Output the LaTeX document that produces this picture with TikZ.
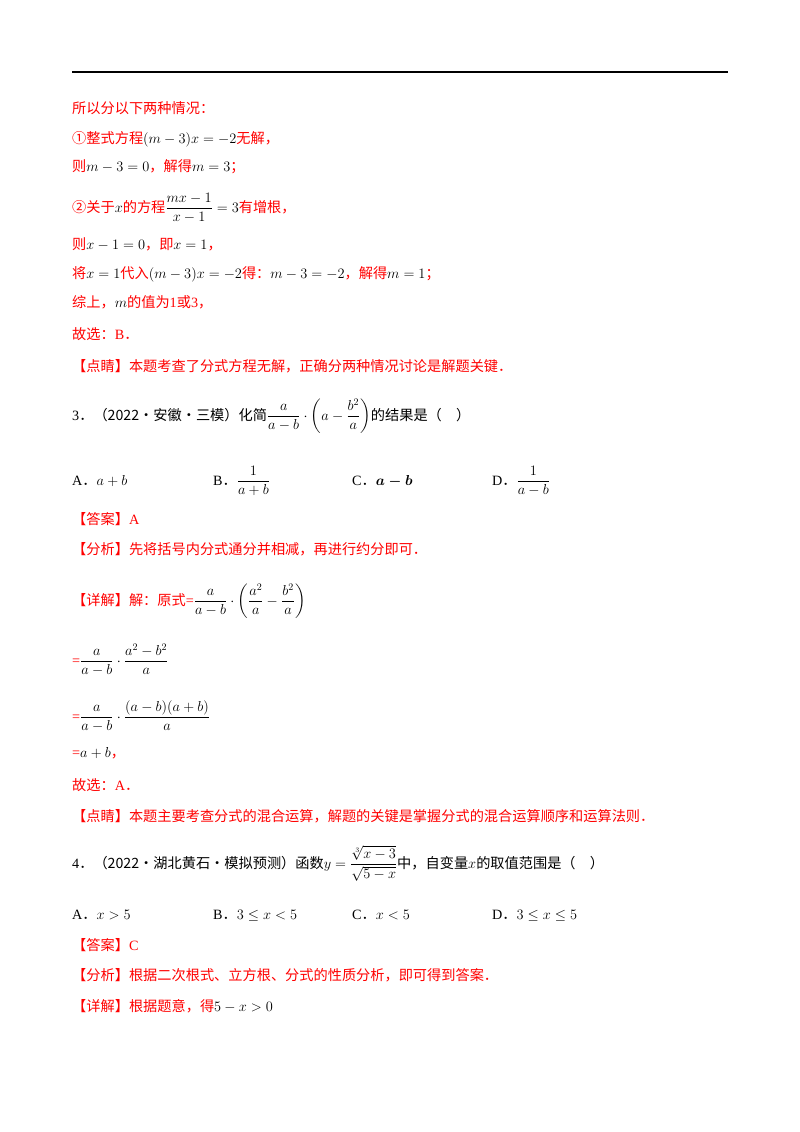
\documentclass[tikz,border=0pt]{standalone}
\usepackage{amsmath}
\usepackage{fontspec}
\setmainfont{Liberation Serif}
\newfontfamily\cjk{Noto Sans CJK SC}
\definecolor{ansred}{RGB}{255,0,0}
\newcommand{\zh}[1]{{\cjk\color{ansred}#1}}
\newcommand{\zk}[1]{{\cjk #1}}
\begin{document}
\begin{tikzpicture}[x=1pt,y=-1pt,
    line/.style={anchor=base west,inner sep=0pt,font=\fontsize{14.2}{17}\selectfont},
    opt/.style={anchor=base west,inner sep=0pt,font=\fontsize{14.2}{17}\selectfont}]
    \useasboundingbox (0,0) rectangle (800,1132);
    \draw[line width=1.6pt] (72,72) -- (728,72);

    \node[line] (l1) at (72,113) {\zh{所以分以下两种情况：}};
    \node[line] (l2) at (72,143) {\zh{①整式方程}$(m-3)x=-2$\zh{无解，}};
    \node[line] (l3) at (72,171) {\zh{则}$m-3=0$\zh{，解得}$m=3$\zh{；}};
    \node[line] (l4) at (72,212) {\zh{②关于}$x$\zh{的方程}$\dfrac{mx-1}{x-1}=3$\zh{有增根，}};
    \node[line] (l5) at (72,249) {\zh{则}$x-1=0$\zh{，即}$x=1$\zh{，}};
    \node[line] (l6) at (72,278) {\zh{将}$x=1$\zh{代入}$(m-3)x=-2$\zh{得：}$m-3=-2$\zh{，解得}$m=1$\zh{；}};
    \node[line] (l7) at (72,307) {\zh{综上，}$m$\zh{的值为}{\color{ansred}1}\zh{或}{\color{ansred}3}\zh{，}};
    \node[line] (l8) at (72,339) {\zh{故选：}{\color{ansred}B}\zh{．}};
    \node[line] (l9) at (72,371) {\zh{【点睛】本题考查了分式方程无解，正确分两种情况讨论是解题关键．}};

    \node[line] (q3) at (72,420) {3\zk{．（2022·安徽·三模）化简}$\dfrac{a}{a-b}\cdot\left(a-\dfrac{b^2}{a}\right)$\zk{的结果是（\quad）}};
    \node[opt] (q3a) at (72,485) {A\zk{．}$a+b$};
    \node[opt] (q3b) at (213,485) {B\zk{．}$\dfrac{1}{a+b}$};
    \node[opt] (q3c) at (352,485) {C\zk{．}$\boldsymbol{a-b}$};
    \node[opt] (q3d) at (492,485) {D\zk{．}$\dfrac{1}{a-b}$};

    \node[line] (a3) at (72,524) {\zh{【答案】}{\color{ansred}A}};
    \node[line] (f3) at (72,554) {\zh{【分析】先将括号内分式通分并相减，再进行约分即可．}};
    \node[line] (d3) at (72,605) {\zh{【详解】解：原式}{\color{ansred}=}$\dfrac{a}{a-b}\cdot\left(\dfrac{a^2}{a}-\dfrac{b^2}{a}\right)$};
    \node[line] (d3b) at (72,665) {{\color{ansred}=}$\dfrac{a}{a-b}\cdot\dfrac{a^2-b^2}{a}$};
    \node[line] (d3c) at (72,721) {{\color{ansred}=}$\dfrac{a}{a-b}\cdot\dfrac{(a-b)(a+b)}{a}$};
    \node[line] (d3d) at (72,757) {{\color{ansred}=}$a+b$\zh{，}};
    \node[line] (g3) at (72,790) {\zh{故选：}{\color{ansred}A}\zh{．}};
    \node[line] (p3) at (72,821) {\zh{【点睛】本题主要考查分式的混合运算，解题的关键是掌握分式的混合运算顺序和运算法则．}};

    \node[line] (q4) at (72,868) {4\zk{．（2022·湖北黄石·模拟预测）函数}$y=\dfrac{\sqrt[3]{x-3}}{\sqrt{5-x}}$\zk{中，自变量}$x$\zk{的取值范围是（\quad）}};
    \node[opt] (q4a) at (72,919) {A\zk{．}$x>5$};
    \node[opt] (q4b) at (213,919) {B\zk{．}$3\le x<5$};
    \node[opt] (q4c) at (352,919) {C\zk{．}$x<5$};
    \node[opt] (q4d) at (492,919) {D\zk{．}$3\le x\le 5$};

    \node[line] (a4) at (72,950) {\zh{【答案】}{\color{ansred}C}};
    \node[line] (f4) at (72,980) {\zh{【分析】根据二次根式、立方根、分式的性质分析，即可得到答案．}};
    \node[line] (d4) at (72,1011) {\zh{【详解】根据题意，得}$5-x>0$};
\end{tikzpicture}
\end{document}
